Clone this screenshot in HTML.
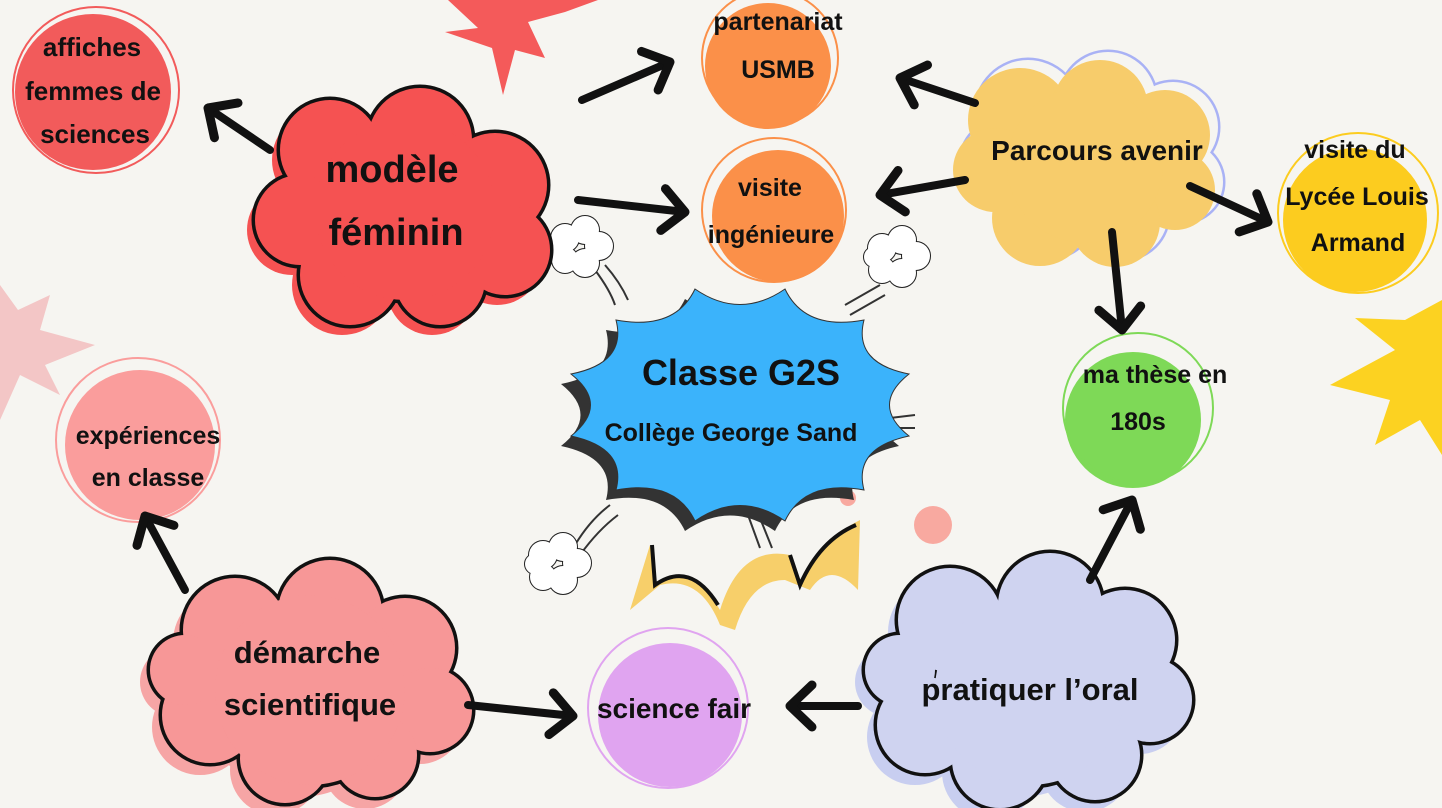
<!DOCTYPE html>
<html><head><meta charset="utf-8"><style>
html,body{margin:0;padding:0;background:#f6f5f1;}
svg{display:block}
text{font-family:"Liberation Sans",sans-serif;font-weight:bold;fill:#111;text-anchor:middle}
</style></head><body>
<svg width="1442" height="808" viewBox="0 0 1442 808" xmlns="http://www.w3.org/2000/svg">
<defs>
<marker id="ah" markerUnits="userSpaceOnUse" markerWidth="60" markerHeight="60" refX="28" refY="26" orient="auto">
<path d="M6,5 L28,26 L6,47" fill="none" stroke="#111" stroke-width="9" stroke-linecap="round" stroke-linejoin="round"/>
</marker>
<g id="cmf"><circle cx="330" cy="150" r="50"/><circle cx="420" cy="140" r="52"/><circle cx="495" cy="185" r="52"/><circle cx="505" cy="250" r="45"/><circle cx="440" cy="280" r="45"/><circle cx="350" cy="275" r="50"/><circle cx="300" cy="220" r="45"/><circle cx="405" cy="210" r="90"/></g>
<g id="cpa"><circle cx="1020" cy="120" r="52"/><circle cx="1100" cy="108" r="48"/><circle cx="1165" cy="135" r="45"/><circle cx="1175" cy="190" r="40"/><circle cx="1115" cy="222" r="45"/><circle cx="1040" cy="218" r="48"/><circle cx="995" cy="170" r="42"/><circle cx="1085" cy="165" r="78"/></g>
<g id="cds"><circle cx="235" cy="630" r="52"/><circle cx="330" cy="612" r="52"/><circle cx="405" cy="648" r="50"/><circle cx="430" cy="710" r="42"/><circle cx="375" cy="755" r="42"/><circle cx="285" cy="758" r="45"/><circle cx="210" cy="715" r="48"/><circle cx="185" cy="670" r="35"/><circle cx="310" cy="690" r="95"/></g>
<g id="cpo"><circle cx="950" cy="620" r="52"/><circle cx="1050" cy="605" r="52"/><circle cx="1125" cy="640" r="50"/><circle cx="1150" cy="700" r="42"/><circle cx="1095" cy="755" r="45"/><circle cx="1000" cy="760" r="48"/><circle cx="925" cy="725" r="48"/><circle cx="900" cy="670" r="35"/><circle cx="1030" cy="690" r="95"/></g>
<g id="puff"><circle cx="0" cy="0" r="14"/><circle cx="20" cy="-8" r="14"/><circle cx="34" cy="8" r="14"/><circle cx="20" cy="25" r="14"/><circle cx="0" cy="22" r="13"/><circle cx="-8" cy="9" r="10"/></g>
</defs>

<!-- decorative stars -->
<polygon points="448,0 478,28 445,32 492,48 503,95 515,50 545,58 528,22 565,12 598,0" fill="#f45a5a"/>
<polygon points="0,285 18,310 50,295 40,330 95,345 45,365 60,395 20,375 0,420" fill="#f3c6c6"/>
<polygon points="1442,300 1405,320 1355,318 1395,350 1330,385 1390,400 1375,445 1420,420 1442,455" fill="#fcd221"/>
<path d="M630,610 L650,545 L655,585 Q690,560 720,610 Q740,545 790,555 L800,585 Q820,540 860,520 L858,590 Q830,560 810,590 L785,580 Q750,580 735,630 L720,625 Q700,575 660,585 Z" fill="#f7cf6a"/>
<path d="M652,545 L655,585 Q690,560 718,605 M790,555 L800,585 Q820,540 856,525" fill="none" stroke="#111" stroke-width="4"/>

<!-- speed lines -->
<g stroke="#333" stroke-width="2" fill="none">
<path d="M595,270 Q610,290 615,305 M605,265 Q620,282 628,300"/>
<path d="M845,305 L880,285 M850,315 L885,295"/>
<path d="M890,418 L915,415 M890,428 L915,428"/>
<path d="M575,545 Q590,520 610,505 M580,555 Q598,530 618,515"/>
<path d="M748,515 L760,548 M758,513 L772,548"/>
</g>
<g fill="#fff" stroke="#222" stroke-width="2">
<use href="#puff" x="565" y="238"/><use href="#puff" x="882" y="248"/><use href="#puff" x="543" y="555"/>
</g>
<g fill="#fff"><use href="#puff" x="565" y="238"/><use href="#puff" x="882" y="248"/><use href="#puff" x="543" y="555"/></g>

<!-- circles -->
<circle cx="93" cy="92" r="78" fill="#f25b5b"/>
<circle cx="96" cy="90" r="83" fill="none" stroke="#f25b5b" stroke-width="2"/>
<circle cx="768" cy="66" r="63" fill="#fb9049"/>
<circle cx="770" cy="58" r="68" fill="none" stroke="#fb9049" stroke-width="2"/>
<circle cx="778" cy="216" r="66" fill="#fb9049"/>
<circle cx="774" cy="210" r="72" fill="none" stroke="#fb9049" stroke-width="2"/>
<circle cx="1355" cy="220" r="72" fill="#fccc1f"/>
<circle cx="1358" cy="213" r="80" fill="none" stroke="#fccc1f" stroke-width="2"/>
<circle cx="1133" cy="420" r="68" fill="#7ed957"/>
<circle cx="1138" cy="408" r="75" fill="none" stroke="#7ed957" stroke-width="2"/>
<circle cx="140" cy="445" r="75" fill="#fa9d9c"/>
<circle cx="138" cy="440" r="82" fill="none" stroke="#fa9d9c" stroke-width="2"/>
<circle cx="670" cy="715" r="72" fill="#e0a4f0"/>
<circle cx="668" cy="708" r="80" fill="none" stroke="#e0a4f0" stroke-width="2"/>
<circle cx="848" cy="498" r="8" fill="#f8a9a0"/>
<circle cx="933" cy="525" r="19" fill="#f8a9a0"/>

<!-- clouds -->
<use href="#cmf" x="-8" y="10" fill="#f55252"/>
<use href="#cmf" fill="none" stroke="#111" stroke-width="7"/>
<use href="#cmf" fill="#f55252"/>

<use href="#cpa" x="8" y="-8" fill="none" stroke="#a9b2f5" stroke-width="5"/>
<use href="#cpa" x="8" y="-8" fill="#f6f5f1"/>
<use href="#cpa" fill="#f7cc6b"/>

<use href="#cds" x="-10" y="12" fill="#f6a5a5"/>
<use href="#cds" fill="none" stroke="#111" stroke-width="7"/>
<use href="#cds" fill="#f79797"/>

<use href="#cpo" x="-10" y="12" fill="#c8cef0"/>
<use href="#cpo" fill="none" stroke="#111" stroke-width="7"/>
<use href="#cpo" fill="#cfd3f0"/>

<!-- starburst -->
<path transform="translate(-10,10)" d="M909,436 Q853,448 864,490 Q805,479 785,521 Q740,490 695,521 Q675,479 616,490 Q627,448 571,436 Q610,405 571,374 Q627,363 616,320 Q675,331 695,289 Q740,320 785,289 Q805,331 864,320 Q853,363 909,374 Q870,405 909,436 Z" fill="#333"/>
<path d="M909,436 Q853,448 864,490 Q805,479 785,521 Q740,490 695,521 Q675,479 616,490 Q627,448 571,436 Q610,405 571,374 Q627,363 616,320 Q675,331 695,289 Q740,320 785,289 Q805,331 864,320 Q853,363 909,374 Q870,405 909,436 Z" fill="#3bb3fb" stroke="#333" stroke-width="1"/>

<!-- arrows -->
<g stroke="#111" stroke-width="8" stroke-linecap="round" fill="none" marker-end="url(#ah)">
<path d="M270,150 L208,108"/>
<path d="M582,100 L670,62"/>
<path d="M578,200 L685,212"/>
<path d="M975,103 L900,78"/>
<path d="M965,180 L880,195"/>
<path d="M1190,186 L1268,222"/>
<path d="M1112,232 L1122,330"/>
<path d="M1090,580 L1132,500"/>
<path d="M858,706 L790,706"/>
<path d="M468,705 L573,716"/>
<path d="M185,590 L145,516"/>
</g>

<!-- labels -->
<text x="92" y="56" font-size="26">affiches</text>
<text x="93" y="100" font-size="26">femmes de</text>
<text x="95" y="143" font-size="26">sciences</text>
<text x="392" y="182" font-size="38">modèle</text>
<text x="396" y="245" font-size="38">féminin</text>
<text x="778" y="30" font-size="25">partenariat</text>
<text x="778" y="78" font-size="25">USMB</text>
<text x="770" y="196" font-size="25">visite</text>
<text x="771" y="243" font-size="25">ingénieure</text>
<text x="1097" y="160" font-size="28">Parcours avenir</text>
<text x="1355" y="158" font-size="25">visite du</text>
<text x="1357" y="205" font-size="25">Lycée Louis</text>
<text x="1358" y="251" font-size="25">Armand</text>
<text x="741" y="385" font-size="36">Classe G2S</text>
<text x="731" y="441" font-size="25" font-weight="normal">Collège George Sand</text>
<text x="1155" y="383" font-size="25">ma thèse en</text>
<text x="1138" y="430" font-size="25">180s</text>
<text x="148" y="444" font-size="25">expériences</text>
<text x="148" y="486" font-size="25">en classe</text>
<text x="307" y="663" font-size="31">démarche</text>
<text x="310" y="715" font-size="31">scientifique</text>
<text x="674" y="718" font-size="28">science fair</text>
<text x="1030" y="700" font-size="31">pratiquer l’oral</text>
</svg>
</body></html>
